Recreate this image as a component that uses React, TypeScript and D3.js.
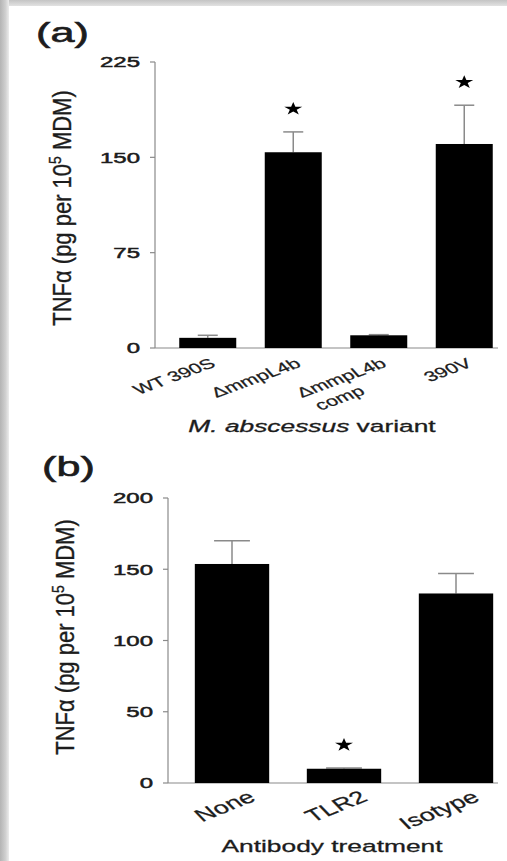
import React from "react";
import * as d3 from "d3";

// ---------- data ----------
const categoriesA = ["WT 390S", "ΔmmpL4b", "ΔmmpL4b|comp", "390V"];
const meansA = [8, 154, 10, 160.5];
const errTopsA = [10, 170, 10.5, 191];
const sigA = [false, true, false, true];
const ticksA = [0, 75, 150, 225];

const categoriesB = ["None", "TLR2", "Isotype"];
const meansB = [153.7, 10, 133];
const errTopsB = [170, 10.5, 147];
const sigB = [false, true, false];
const ticksB = [0, 50, 100, 150, 200];

const FONT = "'Liberation Sans', Arial, Helvetica, sans-serif";
const INK = "#1c1c1c";
const AXIS = "#8a8a8a";
const SX = 1.55;

type PanelProps = {
  cats: string[];
  means: number[];
  errs: number[];
  sig: boolean[];
  ticks: number[];
  yMax: number;
  yRange: [number, number];
  xRange: [number, number];
  padIn: number;
  padOut: number;
  axisX: number;
  axisEnd: number;
  capFrac: number;
  letter: string;
  letterPos: [number, number];
  yLabelPos: [number, number];
  xLabelFont: number;
  xLabelRot: number;
  xLabelDx: number;
  xLabelDy: number;
  xTitle: React.ReactNode;
  xTitlePos: [number, number];
};

function Panel(p: PanelProps) {
  const y = d3.scaleLinear().domain([0, p.yMax]).range(p.yRange);
  const x = d3
    .scaleBand<string>()
    .domain(p.cats)
    .range(p.xRange)
    .paddingInner(p.padIn)
    .paddingOuter(p.padOut);
  const bw = x.bandwidth();
  const y0 = y(0);
  const star = d3.symbol().type(d3.symbolStar).size(55)() as string;
  const capHalf = (x.step() * p.capFrac) / 2;

  return (
    <g>
      {/* panel letter */}
      <text
        transform={`translate(${p.letterPos[0]},${p.letterPos[1]}) scale(1.6,1)`}
        fontFamily={FONT}
        fontSize={27}
        fill={INK}
        stroke={INK}
        strokeWidth={0.6}
      >
        {p.letter}
      </text>

      {/* y axis label */}
      <text
        transform={`translate(${p.yLabelPos[0]},${p.yLabelPos[1]}) scale(1.2,1) rotate(-90)`}
        textAnchor="middle"
        fontFamily={FONT}
        fontSize={22}
        fill={INK}
        stroke={INK}
        strokeWidth={0.3}
      >
        TNFα (pg per 10
        <tspan fontSize={14} dy={-8}>
          5
        </tspan>
        <tspan dy={8}> MDM)</tspan>
      </text>

      {/* axes */}
      <line x1={p.axisX} x2={p.axisX} y1={y(p.yMax)} y2={y0} stroke={AXIS} strokeWidth={1.2} />
      <line x1={p.axisX} x2={p.axisEnd} y1={y0} y2={y0} stroke={AXIS} strokeWidth={1.2} />
      {p.ticks.map((t) => (
        <g key={t}>
          <line x1={p.axisX - 5} x2={p.axisX} y1={y(t)} y2={y(t)} stroke={AXIS} strokeWidth={1.2} />
          <text
            transform={`translate(${p.axisX - 15},${y(t)}) scale(1.6,1)`}
            textAnchor="end"
            dy="0.36em"
            fontFamily={FONT}
            fontSize={15}
            fill={INK}
            stroke={INK}
            strokeWidth={0.5}
          >
            {t}
          </text>
        </g>
      ))}

      {/* bars */}
      {p.cats.map((c, i) => {
        const cx = (x(c) as number) + bw / 2;
        return (
          <g key={c}>
            <line x1={cx} x2={cx} y1={y(p.means[i])} y2={y(p.errs[i])} stroke={AXIS} strokeWidth={1.5} />
            <line
              x1={cx - capHalf}
              x2={cx + capHalf}
              y1={y(p.errs[i])}
              y2={y(p.errs[i])}
              stroke={AXIS}
              strokeWidth={1.5}
            />
            <rect x={x(c)} y={y(p.means[i])} width={bw} height={y0 - y(p.means[i])} fill="#000" />
            {p.sig[i] && (
              <path d={star} transform={`translate(${cx},${y(p.errs[i]) - 23}) scale(1.35,1)`} fill="#000" />
            )}
          </g>
        );
      })}

      {/* x tick labels */}
      {p.cats.map((c) => {
        const cx = (x(c) as number) + bw / 2;
        const lines = c.split("|");
        return (
          <g
            key={"l" + c}
            transform={`translate(${cx + p.xLabelDx},${y0 + p.xLabelDy}) scale(${SX},1) rotate(${p.xLabelRot})`}
            fontFamily={FONT}
            fontSize={p.xLabelFont}
            fill={INK}
            stroke={INK}
            strokeWidth={0.25}
          >
            <text textAnchor="end">{lines[0]}</text>
            {lines[1] && (
              <text x={-43} y={17} textAnchor="middle">
                {lines[1]}
              </text>
            )}
          </g>
        );
      })}

      {/* x title */}
      <text
        transform={`translate(${p.xTitlePos[0]},${p.xTitlePos[1]}) scale(${SX},1)`}
        textAnchor="middle"
        fontFamily={FONT}
        fontSize={17}
        fill={INK}
        stroke={INK}
        strokeWidth={0.3}
      >
        {p.xTitle}
      </text>
    </g>
  );
}

export default function App() {
  return (
    <svg
      width={507}
      height={861}
      style={{ position: "absolute", left: 0, top: 0, background: "#fff" }}
    >
      <defs>
        <linearGradient id="gl" x1="0" x2="1" y1="0" y2="0">
          <stop offset="0" stopColor="#b4b4b4" />
          <stop offset="0.6" stopColor="#cfcfcf" />
          <stop offset="1" stopColor="#ececec" />
        </linearGradient>
        <linearGradient id="gt" x1="0" x2="0" y1="0" y2="1">
          <stop offset="0" stopColor="#c4c4c4" />
          <stop offset="1" stopColor="#e2e2e2" />
        </linearGradient>
      </defs>
      <rect x={0} y={0} width={507} height={861} fill="#fff" />
      <rect x={0} y={0} width={507} height={6} fill="url(#gt)" />
      <rect x={0} y={0} width={9} height={861} fill="url(#gl)" />

      <Panel
        cats={categoriesA}
        means={meansA}
        errs={errTopsA}
        sig={sigA}
        ticks={ticksA}
        yMax={225}
        yRange={[348, 62]}
        xRange={[165, 507]}
        padIn={1 / 3}
        padOut={1 / 6}
        axisX={155}
        axisEnd={498}
        capFrac={0.234}
        letter="(a)"
        letterPos={[36, 42]}
        yLabelPos={[71, 208]}
        xLabelFont={14}
        xLabelRot={-30}
        xLabelDx={9}
        xLabelDy={18}
        xTitle={
          <>
            <tspan fontStyle="italic">M. abscessus</tspan> variant
          </>
        }
        xTitlePos={[312, 432]}
      />
      <Panel
        cats={categoriesB}
        means={meansB}
        errs={errTopsB}
        sig={sigB}
        ticks={ticksB}
        yMax={200}
        yRange={[783, 498]}
        xRange={[176, 512]}
        padIn={0.336}
        padOut={0.168}
        axisX={168}
        axisEnd={498}
        capFrac={0.32}
        letter="(b)"
        letterPos={[42, 476]}
        yLabelPos={[74, 637]}
        xLabelFont={17.5}
        xLabelRot={-32}
        xLabelDx={25}
        xLabelDy={17}
        xTitle="Antibody treatment"
        xTitlePos={[332, 852]}
      />
    </svg>
  );
}
